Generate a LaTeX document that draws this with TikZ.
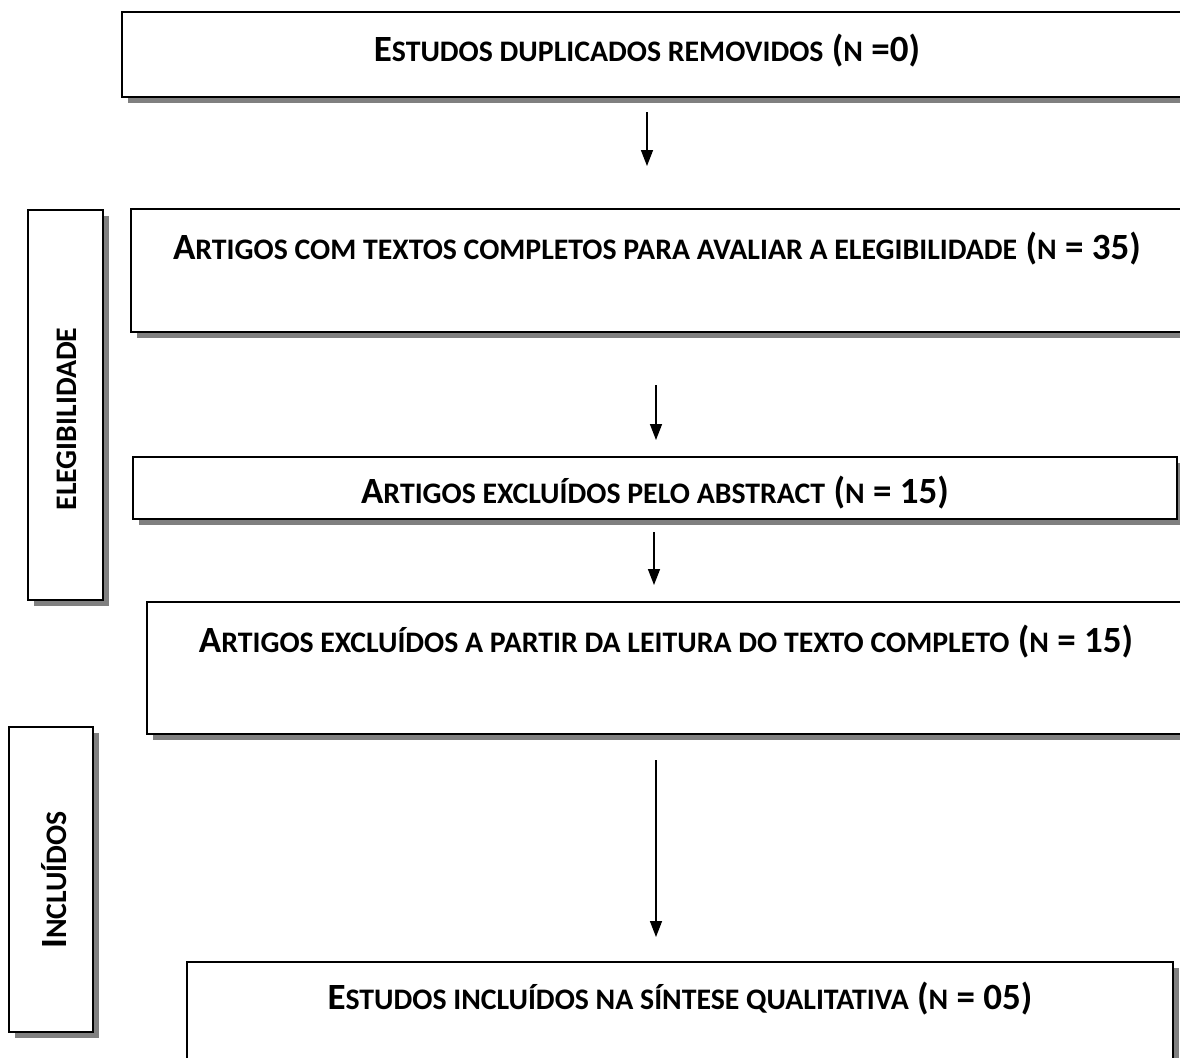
\documentclass[tikz,border=0pt]{standalone}
\usepackage{fontspec}
\setmainfont{Carlito}
\usetikzlibrary{arrows.meta, shadows}
\newcommand{\smc}[1]{{\fontsize{14.9}{14.9}\selectfont #1}}

\begin{document}
\begin{tikzpicture}[x=0.5pt, y=-0.5pt, font=\bfseries\fontsize{18.5}{18.5}\selectfont,
    box/.style={draw, fill=white, line width=1pt, inner sep=0pt,
      drop shadow={shadow xshift=3pt, shadow yshift=-3pt, fill=black!50, opacity=1}},
    flow/.style={-{Triangle[width=6pt, length=8pt]}, line width=0.75pt}]
  \useasboundingbox (0, 0) rectangle (1180, 1057);
  \clip (0, 0) rectangle (1180, 1057);
  % boxes
  \node [box, minimum width=539pt, minimum height=42.5pt] (b1) at (661, 54.5) {};
  \node [box, minimum width=534.5pt, minimum height=61.5pt] (b2) at (665.5, 270.5) {};
  \node [box, minimum width=37.5pt, minimum height=195pt] (elig) at (65.5, 405) {};
  \node [box, minimum width=522pt, minimum height=31pt] (b3) at (655, 488) {};
  \node [box, minimum width=526.5pt, minimum height=66pt] (b4) at (673.5, 667.5) {};
  \node [box, minimum width=42pt, minimum height=152.5pt] (incl) at (50.5, 879.5) {};
  \node [box, minimum width=493pt, minimum height=69pt] (b5) at (680, 1031) {};
  % texts
  \node [anchor=base] (t1) at (647, 61) {E\smc{STUDOS DUPLICADOS REMOVIDOS} (\smc{N} =0)};
  \node [anchor=base] (t2) at (657, 259) {A\smc{RTIGOS COM TEXTOS COMPLETOS PARA AVALIAR A ELEGIBILIDADE} (\smc{N} = 35)};
  \node [anchor=base] (t3) at (655, 503) {A\smc{RTIGOS EXCLUÍDOS PELO ABSTRACT} (\smc{N} = 15)};
  \node [anchor=base] (t4) at (666, 652) {A\smc{RTIGOS EXCLUÍDOS A PARTIR DA LEITURA DO TEXTO COMPLETO} (\smc{N} = 15)};
  \node [anchor=base] (t5) at (680, 1009) {E\smc{STUDOS INCLUÍDOS NA SÍNTESE QUALITATIVA} (\smc{N} = 05)};
  \node [rotate=90] (t6) at (67, 419) {\smc{ELEGIBILIDADE}};
  \node [rotate=90] (t7) at (54, 880) {I\smc{NCLUÍDOS}};
  % arrows
  \coordinate (a1) at (647, 112);
  \coordinate (a2) at (656, 385);
  \coordinate (a3) at (654, 532);
  \coordinate (a4) at (656, 760);
  \draw [flow] (a1) -- (a1 |- 0, 166);
  \draw [flow] (a2) -- (a2 |- 0, 440);
  \draw [flow] (a3) -- (a3 |- 0, 585);
  \draw [flow] (a4) -- (a4 |- 0, 937);
\end{tikzpicture}
\end{document}
